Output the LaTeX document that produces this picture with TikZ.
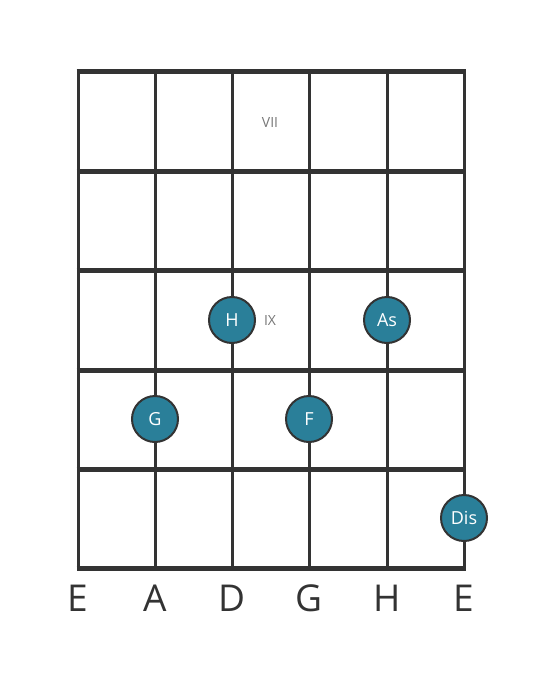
\documentclass[tikz,border=0pt]{standalone}
\usepackage{fontspec}
\setmainfont{Open Sans}
\definecolor{grid}{HTML}{333333}
\definecolor{dotfill}{HTML}{2A7F99}
\definecolor{lbl}{HTML}{777777}
\begin{document}
\begin{tikzpicture}[x=1pt,y=-1pt,
  fret/.style={draw=grid,line width=5pt},
  str/.style={draw=grid,line width=3pt},
  dot/.style={circle,draw=grid,line width=2pt,fill=dotfill,minimum size=46pt,inner sep=0pt,text=white,font=\fontsize{18}{18}\selectfont},
  fretlbl/.style={text=lbl,font=\fontsize{14}{14}\selectfont},
  strlbl/.style={text=grid,font=\fontsize{37}{37}\selectfont}]
\useasboundingbox (0,0) rectangle (559,682);
\foreach \x in {78,155,232,309,387,464} \draw[str] (\x,72) -- (\x,568);
\foreach \y in {72,171,270,370,469,568} \draw[fret] (76.5,\y) -- (465.5,\y);
\node[fretlbl] (vii) at (270,123) {VII};
\node[fretlbl] (ix) at (270,321) {IX};
\node[dot] (h) at (232,320) {H};
\node[dot] (as) at (387,320) {As};
\node[dot] (g) at (155,419) {G};
\node[dot] (f) at (309,419) {F};
\node[dot] (dis) at (464,518) {Dis};
\node[strlbl] (s1) at (78,598) {E};
\node[strlbl] (s2) at (155,598) {A};
\node[strlbl] (s3) at (232,598) {D};
\node[strlbl] (s4) at (309,598) {G};
\node[strlbl] (s5) at (387,598) {H};
\node[strlbl] (s6) at (464,598) {E};
\end{tikzpicture}
\end{document}
